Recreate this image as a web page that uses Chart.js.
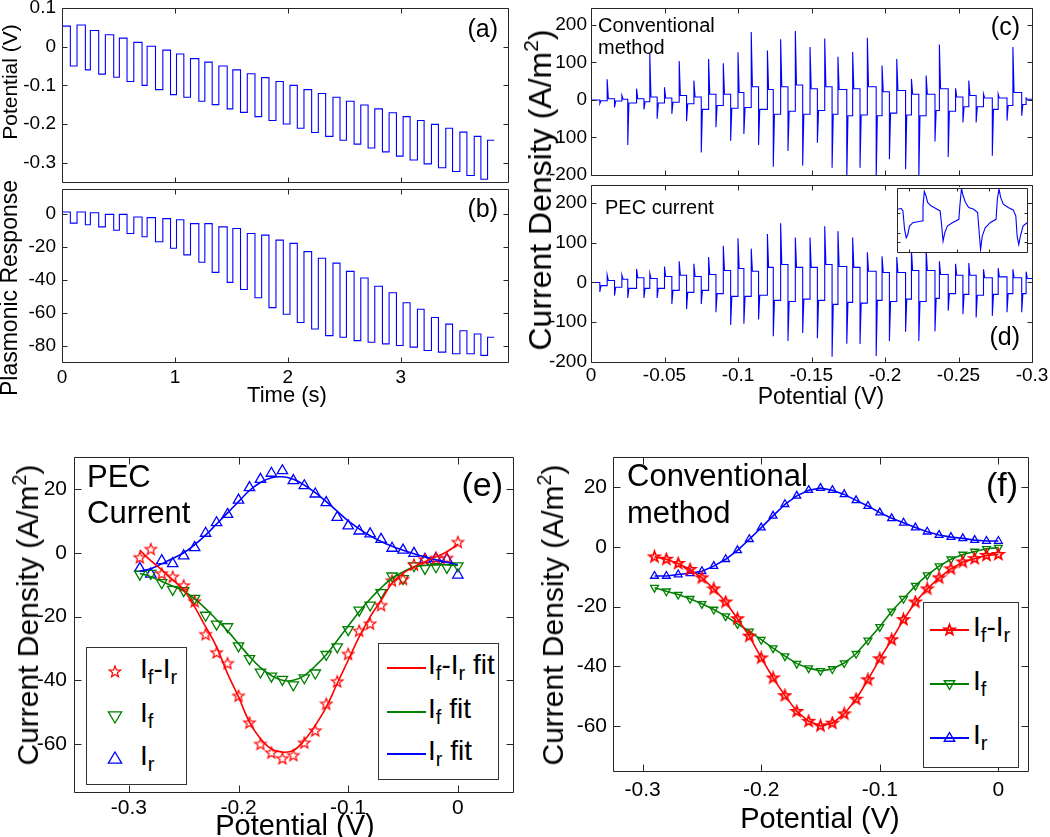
<!DOCTYPE html>
<html>
<head>
<meta charset="utf-8">
<script src="https://cdn.jsdelivr.net/npm/chart.js@4.4.0/dist/chart.umd.min.js"></script>
<style>
  body { margin: 0; width: 1050px; height: 837px; position: relative; overflow: hidden; background: #fff;
         font-family: "Liberation Sans", Arial, sans-serif; color: #000; }
  canvas { position: absolute; }
  .t { position: absolute; white-space: nowrap; line-height: 1; }
  .rot { position: absolute; white-space: nowrap; line-height: 1; transform: translate(-50%, -50%) rotate(-90deg); }
  .leg { position: absolute; border: 1px solid #333; background: #fff; box-sizing: border-box; }
  sub { font-size: 0.72em; vertical-align: -0.32em; line-height: 0; }
  sup { font-size: 0.66em; vertical-align: 0.6em; line-height: 0; }
</style>
</head>
<body>
<canvas id="pa" width="520" height="186" style="left:0;top:0"></canvas>
<canvas id="pb" width="520" height="200" style="left:0;top:186px"></canvas>
<canvas id="pc" width="530" height="180" style="left:520px;top:0"></canvas>
<canvas id="pd" width="530" height="206" style="left:520px;top:180px"></canvas>
<canvas id="pin" width="132" height="66" style="left:896px;top:187px;background:#fff"></canvas>
<canvas id="pe" width="520" height="397" style="left:0;top:440px"></canvas>
<canvas id="pf" width="530" height="397" style="left:520px;top:440px"></canvas>

<div class="rot" style="left:9px;top:82px;font-size:21px">Potential (V)</div>
<div class="rot" style="left:9px;top:288px;font-size:23px">Plasmonic Response</div>
<div class="t" style="left:287px;top:384px;font-size:22px;transform:translateX(-50%)">Time (s)</div>
<div class="t" style="right:552px;top:16px;font-size:25px">(a)</div>
<div class="t" style="right:552px;top:196px;font-size:25px">(b)</div>

<div class="rot" style="left:540px;top:190px;font-size:32px">Current Density (A/m<sup>2</sup>)</div>
<div class="t" style="left:598px;top:15px;font-size:20px">Conventional</div>
<div class="t" style="left:598px;top:37px;font-size:20px">method</div>
<div class="t" style="left:605px;top:197px;font-size:20px">PEC current</div>
<div class="t" style="right:30px;top:14px;font-size:25px">(c)</div>
<div class="t" style="right:30px;top:324px;font-size:25px">(d)</div>
<div class="t" style="left:821px;top:385px;font-size:23px;transform:translateX(-50%)">Potential (V)</div>

<div class="rot" style="left:28px;top:615px;font-size:30px">Current Density (A/m<sup>2</sup>)</div>
<div class="t" style="left:87px;top:461px;font-size:31px">PEC</div>
<div class="t" style="left:87px;top:497px;font-size:31px">Current</div>
<div class="t" style="right:547px;top:467px;font-size:34px">(e)</div>
<div class="t" style="left:295px;top:811px;font-size:29px;transform:translateX(-50%)">Potential (V)</div>

<div class="rot" style="left:553px;top:615px;font-size:30px">Current Density (A/m<sup>2</sup>)</div>
<div class="t" style="left:627px;top:460px;font-size:31px">Conventional</div>
<div class="t" style="left:627px;top:497px;font-size:31px">method</div>
<div class="t" style="right:32px;top:467px;font-size:34px">(f)</div>
<div class="t" style="left:820px;top:804px;font-size:29px;transform:translateX(-50%)">Potential (V)</div>

<div class="leg" id="legE1" style="left:86px;top:647px;width:101px;height:138px"></div>
<div class="leg" id="legE2" style="left:378px;top:643px;width:121px;height:137px"></div>
<div class="leg" id="legF" style="left:923px;top:602px;width:96px;height:166px"></div>

<script>
// ---------- (a) potential square wave ----------
const riseT = [0, 0.133, 0.251, 0.384, 0.508, 0.636, 0.754, 0.893, 1.014, 1.138, 1.265, 1.389, 1.513, 1.641, 1.768, 1.895,
  2.019, 2.143, 2.270, 2.400, 2.519, 2.646, 2.770, 2.897, 3.021, 3.148, 3.272, 3.399, 3.524, 3.651, 3.769];
const fallT = [0.074, 0.207, 0.325, 0.458, 0.576, 0.709, 0.828, 0.961, 1.079, 1.212, 1.330, 1.463, 1.581, 1.709, 1.833,
  1.960, 2.084, 2.211, 2.335, 2.462, 2.587, 2.711, 2.838, 2.962, 3.083, 3.207, 3.334, 3.459, 3.586, 3.710];
const endT = 3.828;
const aHigh = [0.053, 0.056, 0.042, 0.031, 0.022, 0.011, 0.001, -0.009, -0.019, -0.031, -0.040, -0.050, -0.060, -0.070,
  -0.080, -0.090, -0.100, -0.111, -0.121, -0.131, -0.141, -0.151, -0.161, -0.171, -0.181, -0.191, -0.201, -0.211,
  -0.221, -0.232, -0.242];
const aLow = [-0.050, -0.060, -0.071, -0.079, -0.090, -0.100, -0.111, -0.124, -0.131, -0.141, -0.150, -0.161, -0.170,
  -0.181, -0.191, -0.200, -0.211, -0.222, -0.232, -0.242, -0.252, -0.262, -0.272, -0.283, -0.293, -0.303, -0.313,
  -0.323, -0.333, -0.343];

// ---------- (b) plasmonic response ----------
const bTop = [1, 1, 0.6, -0.4, -0.4, -2, -2.4, -3, -3.7, -6, -6, -8, -9, -12, -13, -16, -18, -23, -27, -30, -35, -39,
  -44, -48, -54, -58, -63, -67, -71, -73, -75];
const bBottom = [-5.7, -6.7, -8, -10, -12, -14, -17, -21, -25, -29.5, -35.6, -41.7, -46, -51, -57, -61, -66, -70, -74,
  -75, -77, -78, -79, -80, -81, -83, -84, -85, -85, -86];

// ---------- (c), (d) current transients ----------
const negEdge = [-0.006, -0.016, -0.025, -0.036, -0.045, -0.055, -0.065, -0.075, -0.085, -0.095, -0.104, -0.114, -0.124,
  -0.134, -0.144, -0.154, -0.164, -0.174, -0.183, -0.194, -0.203, -0.214, -0.223, -0.234, -0.243, -0.253, -0.262,
  -0.273, -0.283, -0.293];
const posEdge = [-0.011, -0.021, -0.031, -0.040, -0.050, -0.060, -0.070, -0.080, -0.090, -0.100, -0.109, -0.120, -0.129,
  -0.139, -0.149, -0.159, -0.168, -0.178, -0.188, -0.198, -0.208, -0.218, -0.228, -0.237, -0.248, -0.257, -0.267,
  -0.277, -0.287, -0.296];
const cPosPeak = [55, 12, 30, 123, 34, 104, 52, 109, 98, 127, 181, 132, 162, 184, 141, 164, 115, 128, 166, 92, 109, 56,
  65, 148, 31, 52, 16, 16, 141, 5];
const cNegPeak = [-10, -20, -120, -25, -50, -37, -57, -140, -73, -109, -91, -120, -178, -136, -175, -114, -181, -210,
  -181, -210, -158, -185, -210, -111, -152, -60, -60, -149, -55, -42];
const cPosSettle = [3, 2, 3, 8, 5, 12, 8, 15, 15, 20, 35, 28, 35, 40, 30, 35, 28, 30, 35, 22, 25, 15, 15, 30, 8, 12, 5,
  5, 20, 2];
const cNegSettle = [-2, -3, -8, -5, -8, -6, -10, -25, -15, -22, -20, -25, -38, -30, -38, -28, -38, -42, -40, -42, -35,
  -40, -42, -28, -30, -18, -18, -25, -15, -12];
const dPosPeak = [19, 19, 34, 23, 40, 53, 47, 64, 92, 111, 85, 122, 149, 113, 113, 141, 129, 113, 76, 66, 64, 80, 83,
  53, 47, 49, 33, 36, 33, 27];
const dNegPeak = [-24, -33, -39, -39, -39, -54, -67, -54, -75, -107, -104, -93, -135, -147, -127, -140, -187, -154,
  -155, -185, -147, -124, -147, -123, -71, -80, -88, -84, -75, -75];
const dPosSettle = [5, 8, 12, 10, 15, 18, 15, 20, 30, 35, 28, 38, 45, 38, 38, 45, 40, 38, 28, 25, 25, 30, 30, 20, 18,
  18, 12, 14, 12, 10];
const dNegSettle = [-8, -12, -15, -15, -15, -20, -25, -20, -28, -35, -35, -32, -45, -48, -42, -45, -55, -50, -52, -45,
  -48, -42, -48, -40, -28, -30, -32, -30, -28, -28];

// inset of (d): a few cycles, arbitrary units
const insetX = [0, 0.114, 0.158, 0.202, 0.246, 0.289, 0.333, 0.421, 0.553, 0.667, 0.693, 0.728, 0.772, 0.816, 0.904,
  1.035, 1.149, 1.184, 1.228, 1.272, 1.342, 1.474, 1.649, 1.675, 1.719, 1.763, 1.825, 1.912, 2.044, 2.149, 2.184, 2.228,
  2.272, 2.351, 2.482, 2.640, 2.675, 2.719, 2.763, 2.833, 2.965, 3.096, 3.167, 3.202, 3.246, 3.289, 3.360, 3.465];
const insetY = [32, 34, 27, -28, -53, -43, -18, -8, -5, -3, 42, 85, 72, 52, 42, 34, 27, -8, -63, -38, -18, -8, 2, 42,
  94, 72, 52, 37, 32, 22, -28, -88, -48, -23, -8, 2, 62, 92, 67, 47, 37, 30, 12, -48, -73, -48, -18, -8];

// ---------- (e), (f) peak currents vs potential ----------
const potentials = [-0.29, -0.28, -0.27, -0.26, -0.25, -0.24, -0.23, -0.22, -0.21, -0.20, -0.19, -0.18, -0.17, -0.16,
  -0.15, -0.14, -0.13, -0.12, -0.11, -0.10, -0.09, -0.08, -0.07, -0.06, -0.05, -0.04, -0.03, -0.02, -0.01, 0];
const eDiff = [-1.6, 1.0, -6.7, -7.7, -10.4, -15.4, -25.7, -31.4, -34.8, -45.0, -53.4, -60.1, -62.8, -64.6, -63.6,
  -59.7, -55.9, -47.5, -40.5, -31.9, -24.6, -22.4, -16.6, -8.9, -8.4, -3.9, -2.3, -1.8, -1.8, 3.2];
const eF = [-6.7, -6.5, -9.4, -11.5, -11.9, -14.3, -19.6, -22.4, -23.2, -29.2, -33.2, -37.4, -38.7, -39.7, -41.4, -39.2,
  -37.7, -31.9, -29.5, -24.1, -18.0, -16.4, -12.5, -7.3, -8.1, -4.1, -4.9, -4.4, -4.6, -4.1];
const eR = [-4.9, -6.7, -2.5, -3.4, -1.0, 1.6, 6.1, 9.4, 12.0, 16.5, 20.4, 23.0, 24.9, 25.7, 22.6, 21.0, 18.4, 15.7,
  11.1, 8.4, 6.8, 5.9, 4.2, 1.4, 0.8, -0.2, -2.1, -1.8, -2.1, -7.0];
const eDiffFit = [0.8, -2.5, -5.4, -8.5, -11.7, -17, -23.2, -29.5, -37.9, -45.2, -53.1, -58.3, -61.5, -62.5, -62, -58.8,
  -54.1, -48.4, -41, -33.7, -26.4, -20.1, -14.9, -9.6, -6.5, -4.4, -2.8, -1.3, 0.3, 2.7];
const eFFit = [-6.5, -7.5, -9, -10.5, -12, -14.5, -17.5, -21, -24.5, -28.5, -32.5, -36, -38.5, -40, -40, -38.5, -35.5,
  -32, -27.5, -23, -18.5, -14.5, -11, -8, -6, -4.5, -4, -3.8, -3.8, -4];
const eRFit = [-5.8, -5, -3.5, -1.8, 0, 2.5, 5.5, 9, 12.5, 16, 19.5, 22, 23.5, 23.8, 23, 21.2, 18.8, 16, 13, 10, 7.5,
  5.3, 3.5, 2, 0.8, -0.3, -1.3, -2.2, -3, -3.8];
const fDiff = [-3.4, -4.2, -5.6, -7.6, -10.4, -14.1, -18.5, -24.1, -29.9, -37.2, -43.9, -49.8, -55.1, -58.4, -59.9,
  -59.0, -55.9, -51.0, -44.5, -37.5, -31.1, -24.4, -18.5, -14.1, -10.4, -7.4, -5.1, -4.0, -2.9, -2.6];
const fF = [-13.7, -14.9, -16.0, -17.4, -19.1, -21.0, -23.2, -25.8, -28.3, -31.1, -33.9, -36.6, -39.1, -40.6, -41.5,
  -40.9, -38.9, -35.8, -31.3, -26.8, -21.6, -17.4, -13.0, -9.5, -6.5, -4.2, -2.6, -1.6, -0.7, -0.3];
const fR = [-9.8, -9.8, -9.3, -8.9, -8.2, -6.5, -4.2, -1.2, 2.5, 6.4, 10.3, 14.2, 17.0, 18.9, 19.6, 18.9, 17.5, 15.5,
  13.6, 11.4, 9.5, 8.0, 6.4, 5.0, 3.9, 3.2, 2.8, 2.2, 1.9, 1.9];

// tick values
const timeTicks = [0, 1, 2, 3];
const aYTicks = [-0.3, -0.2, -0.1, 0, 0.1];
const bYTicks = [-80, -60, -40, -20, 0];
const cdXTicks = [0, -0.05, -0.1, -0.15, -0.2, -0.25, -0.3];
const cdYTicks = [-200, -100, 0, 100, 200];
const insetXTicks = [0.33, 1.6, 2.44];
const insetYTicks = [-66, -38, 20];
const efXTicks = [-0.3, -0.2, -0.1, 0];
const efYTicks = [-60, -40, -20, 0, 20];

const BLUE = '#0000ff', RED = '#ff0000', GREEN = '#008000';
const FONT = '"Liberation Sans", Arial, sans-serif';
Chart.defaults.font.family = FONT;
Chart.defaults.color = '#000';

// MATLAB style box with inward ticks
Chart.register({
  id: 'frame',
  afterDraw(chart, args, opts) {
    const { ctx, chartArea: a, scales } = chart;
    const len = opts.tick || 5;
    const L = Math.round(a.left) + 0.5, R = Math.round(a.right) + 0.5;
    const T = Math.round(a.top) + 0.5, B = Math.round(a.bottom) + 0.5;
    ctx.save();
    ctx.strokeStyle = '#262626';
    ctx.lineWidth = 1;
    ctx.beginPath();
    scales.x.ticks.forEach(t => {
      const px = Math.round(scales.x.getPixelForValue(t.value)) + 0.5;
      ctx.moveTo(px, B); ctx.lineTo(px, B - len);
      ctx.moveTo(px, T); ctx.lineTo(px, T + len);
    });
    scales.y.ticks.forEach(t => {
      const py = Math.round(scales.y.getPixelForValue(t.value)) + 0.5;
      ctx.moveTo(L, py); ctx.lineTo(L + len, py);
      ctx.moveTo(R, py); ctx.lineTo(R - len, py);
    });
    ctx.rect(L, T, R - L, B - T);
    ctx.stroke();
    ctx.restore();
  }
});

function axis(min, max, ticks, o) {
  return {
    type: 'linear', min, max, reverse: !!o.reverse,
    grid: { display: false, drawTicks: false }, border: { display: false },
    afterBuildTicks: s => { s.ticks = ticks.map(v => ({ value: v })); },
    afterFit: s => {
      if (o.w !== undefined) s.width = o.w;
      if (o.h !== undefined) s.height = o.h;
      s.paddingLeft = s.paddingRight = s.paddingTop = s.paddingBottom = 0;
    },
    ticks: { display: !!o.labels, autoSkip: false, maxRotation: 0, padding: o.pad || 0,
             font: { size: o.size || 19 }, color: '#000', callback: v => String(v) }
  };
}

function pts(xs, ys) { return xs.map((x, i) => ({ x, y: ys[i] })); }

function squareWave(rise, fall, hi, lo, end) {
  const out = [];
  for (let k = 0; k < rise.length; k++) {
    out.push({ x: rise[k], y: hi[k] });
    if (k < fall.length) out.push({ x: fall[k], y: lo[k] });
  }
  out.push({ x: end, y: hi[hi.length - 1] });
  return out;
}

const KNEE = 0.0008;
function spikeTrace(negPk, posPk, negSet, posSet) {
  const out = [{ x: 0, y: 0 }];
  let level = 0;
  for (let k = 0; k < negEdge.length; k++) {
    out.push({ x: negEdge[k], y: level }, { x: negEdge[k], y: negPk[k] }, { x: negEdge[k] - KNEE, y: negSet[k] });
    level = negSet[k];
    out.push({ x: posEdge[k], y: level }, { x: posEdge[k], y: posPk[k] }, { x: posEdge[k] - KNEE, y: posSet[k] });
    level = posSet[k];
  }
  out.push({ x: -0.3, y: level });
  return out;
}

function lineSet(data, color, extra) {
  return Object.assign({ data, borderColor: color, borderWidth: 1.1, pointRadius: 0, showLine: true, fill: false }, extra || {});
}

function makeChart(id, datasets, x, y, pad, tick) {
  return new Chart(document.getElementById(id), {
    type: 'scatter',
    data: { datasets },
    options: {
      responsive: false, animation: false, events: [],
      layout: { padding: pad },
      plugins: { legend: { display: false }, tooltip: { enabled: false }, frame: { tick } },
      scales: { x, y }
    }
  });
}

// (a)
makeChart('pa', [lineSet(squareWave(riseT, fallT, aHigh, aLow, endT), BLUE, { stepped: true })],
  axis(0, 3.95, timeTicks, { h: 4 }),
  axis(-0.35, 0.1, aYTicks, { w: 62, labels: true, pad: 6 }),
  { top: 8, right: 12, left: 0, bottom: 0 }, 5);

// (b)
makeChart('pb', [lineSet(squareWave(riseT, fallT, bTop, bBottom, endT), BLUE, { stepped: true })],
  axis(0, 3.95, timeTicks, { h: 24, labels: true, pad: 4 }),
  axis(-90, 15, bYTicks, { w: 62, labels: true, pad: 6 }),
  { top: 3, right: 12, left: 0, bottom: 0 }, 5);

// (c)
makeChart('pc', [lineSet(spikeTrace(cNegPeak, cPosPeak, cNegSettle, cPosSettle), BLUE)],
  axis(-0.3, 0, cdXTicks, { h: 5, reverse: true }),
  axis(-200, 245, cdYTicks, { w: 71, labels: true, pad: 4 }),
  { top: 8, right: 18, left: 0, bottom: 0 }, 5);

// (d)
makeChart('pd', [lineSet(spikeTrace(dNegPeak, dPosPeak, dNegSettle, dPosSettle), BLUE)],
  axis(-0.3, 0, cdXTicks, { h: 24, labels: true, pad: 2, reverse: true }),
  axis(-200, 245, cdYTicks, { w: 71, labels: true, pad: 4 }),
  { top: 5, right: 18, left: 0, bottom: 0 }, 5);

// inset
makeChart('pin', [lineSet(pts(insetX, insetY), BLUE)],
  axis(0, 3.465, insetXTicks, { h: 0 }),
  axis(-95, 95, insetYTicks, { w: 0 }),
  { top: 1, right: 1, left: 1, bottom: 1 }, 3);

// markers
function starImage(color, R, lw) {
  const c = document.createElement('canvas');
  const s = Math.ceil(2 * R + lw + 2);
  c.width = c.height = s;
  const g = c.getContext('2d');
  g.strokeStyle = color; g.lineWidth = lw; g.lineJoin = 'miter';
  g.beginPath();
  for (let i = 0; i < 10; i++) {
    const r = i % 2 ? R * 0.42 : R, ang = -Math.PI / 2 + i * Math.PI / 5;
    g.lineTo(s / 2 + r * Math.cos(ang), s / 2 + r * Math.sin(ang));
  }
  g.closePath(); g.stroke();
  return c;
}
const starE = starImage(RED, 6, 1.2);
const starF = starImage(RED, 5.5, 1.8);

function markSet(data, color, style, r, rot, extra) {
  return Object.assign({ data, showLine: false, pointStyle: style, pointRadius: r, pointRotation: rot || 0,
    pointBorderColor: color, pointBackgroundColor: 'rgba(0,0,0,0)', pointBorderWidth: 1.3, borderColor: color }, extra || {});
}

// (e)
makeChart('pe', [
  lineSet(pts(potentials, eDiffFit), RED, { borderWidth: 1.6, tension: 0.4 }),
  lineSet(pts(potentials, eFFit), GREEN, { borderWidth: 1.6, tension: 0.4 }),
  lineSet(pts(potentials, eRFit), BLUE, { borderWidth: 1.6, tension: 0.4 }),
  markSet(pts(potentials, eDiff), RED, starE, 6),
  markSet(pts(potentials, eF), GREEN, 'triangle', 6, 180),
  markSet(pts(potentials, eR), BLUE, 'triangle', 6, 0)
],
  axis(-0.35, 0.05, efXTicks, { h: 45, labels: true, pad: 4, size: 21 }),
  axis(-75, 30, efYTicks, { w: 74, labels: true, pad: 7, size: 21 }),
  { top: 17, right: 7, left: 0, bottom: 0 }, 7);

// (f)
makeChart('pf', [
  markSet(pts(potentials, fDiff), RED, starF, 5.5, 0, { showLine: true, borderWidth: 1.6 }),
  markSet(pts(potentials, fF), GREEN, 'triangle', 4.5, 180, { showLine: true, borderWidth: 1.6 }),
  markSet(pts(potentials, fR), BLUE, 'triangle', 4.5, 0, { showLine: true, borderWidth: 1.6 })
],
  axis(-0.325, 0.025, efXTicks, { h: 66, labels: true, pad: 7, size: 21 }),
  axis(-75, 30, efYTicks, { w: 93, labels: true, pad: 6, size: 21 }),
  { top: 17, right: 22, left: 0, bottom: 0 }, 7);

// ---------- legends (HTML, with subscripts) ----------
function starPath(cx, cy, R) {
  const p = [];
  for (let i = 0; i < 10; i++) {
    const r = i % 2 ? R * 0.42 : R, ang = -Math.PI / 2 + i * Math.PI / 5;
    p.push((cx + r * Math.cos(ang)).toFixed(2) + ',' + (cy + r * Math.sin(ang)).toFixed(2));
  }
  return p.join(' ');
}
function triPath(cx, cy, r, down) {
  const s = down ? -1 : 1;
  return [cx + ',' + (cy - s * r), (cx + r * 0.95) + ',' + (cy + s * r * 0.6), (cx - r * 0.95) + ',' + (cy + s * r * 0.6)].join(' ');
}
function glyph(kind, color, w, line, r, sw) {
  const cx = w / 2, cy = 10;
  let s = '<svg width="' + w + '" height="20" style="position:absolute;overflow:visible">';
  if (line) s += '<line x1="0" y1="10" x2="' + w + '" y2="10" stroke="' + color + '" stroke-width="1.8"/>';
  if (kind === 'star') s += '<polygon points="' + starPath(cx, cy, r) + '" fill="none" stroke="' + color + '" stroke-width="' + sw + '"/>';
  if (kind === 'down') s += '<polygon points="' + triPath(cx, cy, r, true) + '" fill="none" stroke="' + color + '" stroke-width="' + sw + '"/>';
  if (kind === 'up') s += '<polygon points="' + triPath(cx, cy, r, false) + '" fill="none" stroke="' + color + '" stroke-width="' + sw + '"/>';
  return s + '</svg>';
}
function legend(id, rows, gx, gw, tx, size) {
  const box = document.getElementById(id);
  rows.forEach(r => {
    const g = document.createElement('div');
    g.style.cssText = 'position:absolute;left:' + gx + 'px;top:' + (r.y - 10) + 'px';
    g.innerHTML = glyph(r.kind, r.color, gw, r.line, r.r, r.sw);
    box.appendChild(g);
    const t = document.createElement('div');
    t.className = 't';
    t.style.cssText = 'left:' + tx + 'px;top:' + (r.base - size * 0.85) + 'px;font-size:' + size + 'px';
    t.innerHTML = r.html;
    box.appendChild(t);
  });
}
const lblDiff = 'I<sub>f</sub>-I<sub>r</sub>', lblF = 'I<sub>f</sub>', lblR = 'I<sub>r</sub>';
legend('legE1', [
  { kind: 'star', color: RED, line: false, r: 6, sw: 1.2, y: 24, base: 31, html: lblDiff },
  { kind: 'down', color: GREEN, line: false, r: 7, sw: 1.3, y: 68, base: 75, html: lblF },
  { kind: 'up', color: BLUE, line: false, r: 7, sw: 1.3, y: 111, base: 118, html: lblR }
], 12, 32, 53, 28);
legend('legE2', [
  { kind: 'none', color: RED, line: true, y: 24, base: 31, html: lblDiff + ' fit' },
  { kind: 'none', color: GREEN, line: true, y: 68, base: 75, html: lblF + ' fit' },
  { kind: 'none', color: BLUE, line: true, y: 110, base: 117, html: lblR + ' fit' }
], 8, 39, 49, 28);
legend('legF', [
  { kind: 'star', color: RED, line: true, r: 5.5, sw: 1.8, y: 27, base: 34, html: lblDiff },
  { kind: 'down', color: GREEN, line: true, r: 5.5, sw: 1.4, y: 81, base: 88, html: lblF },
  { kind: 'up', color: BLUE, line: true, r: 5.5, sw: 1.4, y: 135, base: 142, html: lblR }
], 6, 39, 49, 28);
</script>
</body>
</html>
